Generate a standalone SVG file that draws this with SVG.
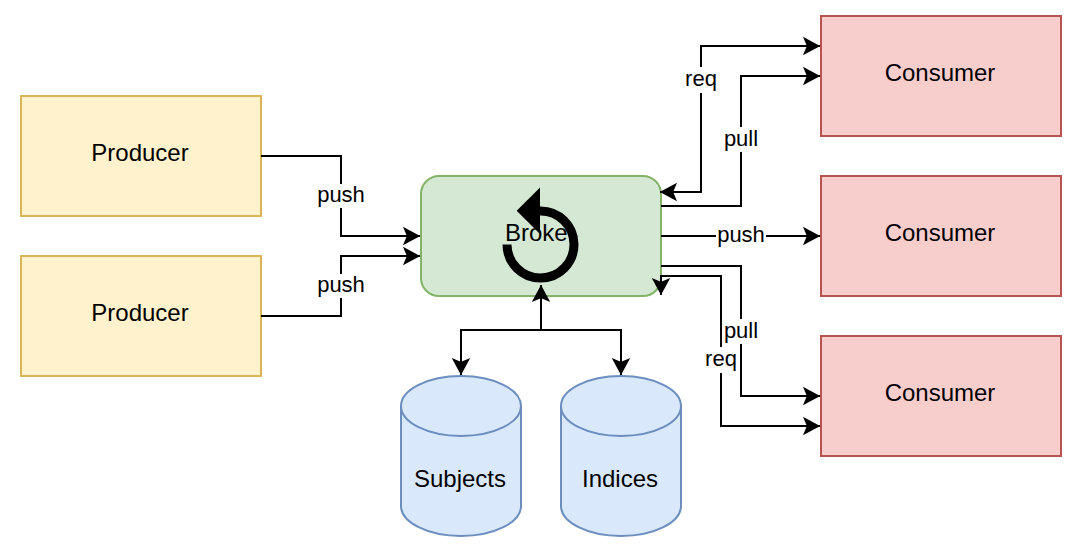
<svg xmlns="http://www.w3.org/2000/svg" width="1082" height="557" viewBox="0 0 1082 557">
<style>
text{font-family:"Liberation Sans",Arial,sans-serif;fill:#000}
.n{font-size:24px;text-anchor:middle}
.st{text-anchor:start}
.l{font-size:22px;text-anchor:middle}
.y{fill:#fff2cc;stroke:#d6b656;stroke-width:2}
.g{fill:#d5e8d4;stroke:#82b366;stroke-width:2}
.r{fill:#f8cecc;stroke:#b85450;stroke-width:2}
.b{fill:#dae8fc;stroke:#6c8ebf;stroke-width:2}
.c{fill:none;stroke:#000;stroke-width:2}
.a{marker-end:url(#h)}
.s{marker-start:url(#hs)}
.bg{fill:#fff}
.m{stroke:#000;stroke-width:2;stroke-miterlimit:10}
</style>
<defs>
<marker id="h" markerUnits="userSpaceOnUse" markerWidth="24" markerHeight="24" refX="20" refY="12" orient="auto" overflow="visible"><path class="m" d="M18 12L5 19L8 12L5 5Z"/></marker>
<marker id="hs" markerUnits="userSpaceOnUse" markerWidth="24" markerHeight="24" refX="20" refY="12" orient="auto-start-reverse" overflow="visible"><path class="m" d="M18 12L5 19L8 12L5 5Z"/></marker>
</defs>
<g id="producer1"><rect class="y" x="21" y="96" width="240" height="120"/><text class="n" x="140" y="161">Producer</text></g>
<g id="producer2"><rect class="y" x="21" y="256" width="240" height="120"/><text class="n" x="140" y="321">Producer</text></g>
<g id="broker"><rect class="g" x="421" y="176" width="240" height="120" rx="18" ry="18"/><text class="n st" x="505" y="241">Broke</text>
<path d="M507 244.500A33.500 33.500 0 1 0 540 211" fill="none" stroke="#000" stroke-width="9"/><path d="M540 187.500L516.700 210.700L540 234Z"/></g>
<g id="consumer1"><rect class="r" x="821" y="16" width="240" height="120"/><text class="n" x="940" y="81">Consumer</text></g>
<g id="consumer2"><rect class="r" x="821" y="176" width="240" height="120"/><text class="n" x="940" y="241">Consumer</text></g>
<g id="consumer3"><rect class="r" x="821" y="336" width="240" height="120"/><text class="n" x="940" y="401">Consumer</text></g>
<g id="subjects"><path class="b" d="M401 406A60 30 0 0 1 521 406V506A60 30 0 0 1 401 506Z"/><path class="b" style="fill:none" d="M401 406A60 30 0 0 0 521 406"/><text class="n" x="460" y="487">Subjects</text></g>
<g id="indices"><path class="b" d="M561 406A60 30 0 0 1 681 406V506A60 30 0 0 1 561 506Z"/><path class="b" style="fill:none" d="M561 406A60 30 0 0 0 681 406"/><text class="n" x="620" y="487">Indices</text></g>
<g id="connectors">
<path class="c a" d="M261 156H341V236H420"/>
<path class="c a" d="M261 316H341V256H420"/>
<path class="c a s" d="M660 192H701V46H820"/>
<path class="c a" d="M661 206H741V76H820"/>
<path class="c a" d="M661 236H820"/>
<path class="c a" d="M661 266H741V396H820"/>
<path class="c a s" d="M661 295V276H721V426H820"/>
<path class="c a" d="M541 330V285"/>
<path class="c a s" d="M461 375V330H621V375"/>
<rect class="bg" x="316" y="184" width="50" height="24"/><text class="l" x="341" y="202">push</text>
<rect class="bg" x="316" y="274" width="50" height="24"/><text class="l" x="341" y="292">push</text>
<rect class="bg" x="684" y="67" width="34" height="26"/><text class="l" x="701" y="86">req</text>
<rect class="bg" x="724" y="127" width="34" height="25"/><text class="l" x="741" y="146">pull</text>
<rect class="bg" x="716" y="225" width="50" height="22"/><text class="l" x="741" y="242">push</text>
<rect class="bg" x="724" y="319" width="34" height="25"/><text class="l" x="741" y="338">pull</text>
<rect class="bg" x="704" y="347" width="34" height="26"/><text class="l" x="721" y="366">req</text>
</g>
</svg>
